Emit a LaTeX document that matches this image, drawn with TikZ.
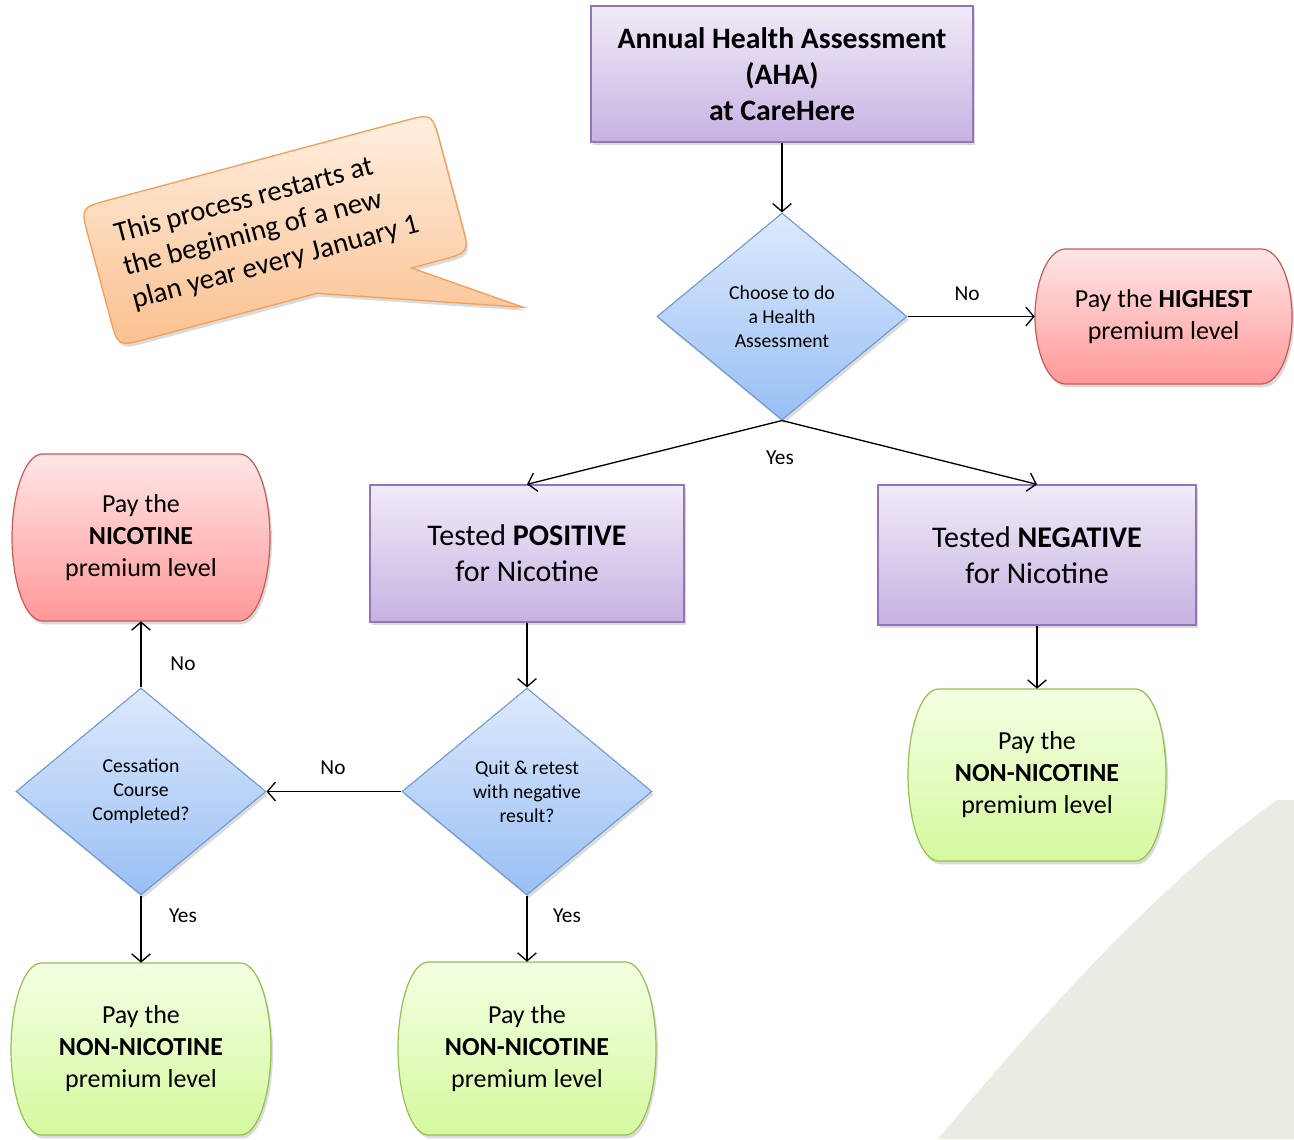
\documentclass[tikz,border=0pt]{standalone}
\usepackage{fontspec}
\setmainfont{Carlito}
\usetikzlibrary{shapes.geometric,arrows.meta,shadows}
\definecolor{purT}{HTML}{F1EBF8}
\definecolor{purB}{HTML}{C6B2E2}
\definecolor{purD}{HTML}{9373B9}
\definecolor{bluT}{HTML}{DDE9FC}
\definecolor{bluB}{HTML}{98BFF4}
\definecolor{bluD}{HTML}{6E96D2}
\definecolor{redT}{HTML}{FFE6E6}
\definecolor{redB}{HTML}{FF9898}
\definecolor{redD}{HTML}{C85A5A}
\definecolor{grnT}{HTML}{F3FFE3}
\definecolor{grnB}{HTML}{D5F99E}
\definecolor{grnD}{HTML}{96BE50}
\definecolor{calT}{HTML}{FFEFE1}
\definecolor{calB}{HTML}{FAC08E}
\definecolor{calD}{HTML}{F5A05A}
\definecolor{grayBG}{HTML}{EBEAE3}
\newcommand\barrelpath[5]{%
  \path[#5] ({#1+30},#2) -- ({#3-30},#2)
    .. controls ({#3-12},{#2+1}) and (#3,{#2+0.25*(#4-#2)}) .. (#3,{(#2+#4)/2})
    .. controls (#3,{#4-0.25*(#4-#2)}) and ({#3-12},{#4-1}) .. ({#3-30},#4)
    -- ({#1+30},#4)
    .. controls ({#1+12},{#4-1}) and (#1,{#4-0.25*(#4-#2)}) .. (#1,{(#2+#4)/2})
    .. controls (#1,{#2+0.25*(#4-#2)}) and ({#1+12},{#2+1}) .. ({#1+30},#2) -- cycle;}
\tikzset{
  sh/.style={drop shadow={opacity=0.28,shadow xshift=1.5pt,shadow yshift=-2.5pt}},
  procbox/.style={rectangle, draw=purD, line width=1pt, top color=purT, bottom color=purB, sh,
    inner sep=0pt, align=center, text=black},
  decbox/.style={diamond, draw=bluD, line width=0.8pt, top color=bluT, bottom color=bluB, sh,
    inner sep=0pt, align=center, minimum width=187.5pt, minimum height=155.25pt,
    font=\fontsize{14.8}{18}\selectfont},
  redfill/.style={draw=redD, line width=0.9pt, top color=redT, bottom color=redB, sh},
  grnfill/.style={draw=grnD, line width=0.9pt, top color=grnT, bottom color=grnB, sh},
  termbox/.style={rectangle, inner sep=0pt, align=center, font=\fontsize{19.5}{24}\selectfont},
  arr/.style={-{Straight Barb[length=6pt,width=14pt]}, line width=1pt, black},
  lbl/.style={font=\fontsize{16}{18}\selectfont, inner sep=0pt},
  callout/.style={draw=calD, line width=1pt, top color=calT, bottom color=calB, sh}
}
\begin{document}
\begin{tikzpicture}[x=0.75pt,y=-0.75pt]
\useasboundingbox (0,0) rectangle (1294,1139);
\fill[white] (0,0) rectangle (1294,1139);
% background corner
\fill[grayBG] (938,1139) .. controls (1030,1030) and (1150,890) .. (1277,800) -- (1294,800) -- (1294,1139) -- cycle;

% callout
\begin{scope}[shift={(275,230)}, rotate=15]
  \draw[callout] (220,139) -- (24,72) -- (-152,72) .. controls (-182,72) .. (-182,42)
    -- (-182,-42) .. controls (-182,-72) .. (-152,-72) -- (152,-72)
    .. controls (182,-72) .. (182,-42) -- (182,42) .. controls (182,72) .. (152,72)
    -- (122,72) -- cycle;
  \node[transform shape, align=left, inner sep=0pt, font=\fontsize{21.5}{25.5}\selectfont] (note) at (-8,-2)
    {This process restarts at\\the beginning of a new\\plan year every January 1};
\end{scope}

% process boxes
\node[procbox, minimum width=286.5pt, minimum height=102pt, font=\bfseries\fontsize{22.3}{27}\selectfont] (aha) at (782,74)
  {Annual Health Assessment\\(AHA)\\at CareHere};
\node[procbox, minimum width=235.5pt, minimum height=102.75pt, font=\fontsize{22.5}{27}\selectfont] (pos) at (527,553.5)
  {Tested \textbf{POSITIVE}\\for Nicotine};
\node[procbox, minimum width=238.5pt, minimum height=105pt, font=\fontsize{22.5}{27}\selectfont] (neg) at (1037,555)
  {Tested \textbf{NEGATIVE}\\for Nicotine};

% decisions
\node[decbox] (d1) at (782,316.5) {Choose to do\\a Health\\Assessment};
\node[decbox] (d2) at (527,791.5) {Quit \& retest\\with negative\\result?};
\node[decbox] (d3) at (141,791.5) {Cessation\\Course\\Completed?};

% terminal boxes
\barrelpath{1035}{249}{1292}{384}{redfill}
\node[termbox, minimum width=192.75pt, minimum height=101.25pt] (high) at (1163.5,316.5)
  {Pay the \textbf{HIGHEST}\\premium level};
\barrelpath{12}{454}{270}{621}{redfill}
\node[termbox, minimum width=193.5pt, minimum height=125.25pt] (nic) at (141,537.5)
  {Pay the\\\textbf{NICOTINE}\\premium level};
\barrelpath{908}{689}{1166}{861}{grnfill}
\node[termbox, minimum width=193.5pt, minimum height=129pt] (nn1) at (1037,775)
  {Pay the\\\textbf{NON-NICOTINE}\\premium level};
\barrelpath{11}{963}{271}{1135}{grnfill}
\node[termbox, minimum width=195pt, minimum height=129pt] (nn2) at (141,1049)
  {Pay the\\\textbf{NON-NICOTINE}\\premium level};
\barrelpath{398}{962}{656}{1135}{grnfill}
\node[termbox, minimum width=193.5pt, minimum height=129.75pt] (nn3) at (527,1048.5)
  {Pay the\\\textbf{NON-NICOTINE}\\premium level};

% connectors
\draw[arr] (aha.south) -- (d1.north);
\draw[arr] (d1.east) -- (high.west);
\draw[arr] (d1.south) -- (pos.north);
\draw[arr] (d1.south) -- (neg.north);
\draw[arr] (neg.south) -- (nn1.north);
\draw[arr] (pos.south) -- (d2.north);
\draw[arr] (d2.west) -- (d3.east);
\draw[arr] (d3.north) -- (nic.south);
\draw[arr] (d3.south) -- (nn2.north);
\draw[arr] (d2.south) -- (nn3.north);

% labels
\node[lbl] (l1) at (967,294) {No};
\node[lbl] (l2) at (780,458) {Yes};
\node[lbl] (l3) at (333,768) {No};
\node[lbl] (l4) at (183,664) {No};
\node[lbl] (l5) at (183,916) {Yes};
\node[lbl] (l6) at (567,916) {Yes};
\end{tikzpicture}
\end{document}
